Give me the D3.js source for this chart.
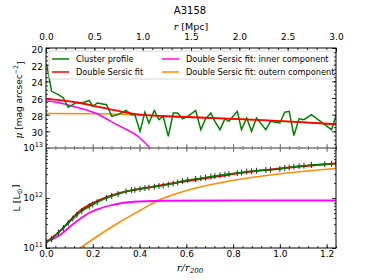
<!DOCTYPE html>
<html>
<head>
<meta charset="UTF-8">
<title>A3158</title>
<style>
  body, html { margin: 0; background: #fff; }
  svg text { font-family: "DejaVu Sans", sans-serif; fill: #000; }
  .math { font-family: "DejaVu Serif", serif; font-style: italic; }
</style>
<script src="https://d3js.org/d3.v7.min.js"></script>
</head>
<body>
<svg id="chart" width="374" height="280"></svg>
<script>
// radii of the profile points, in r/r200
const rProf = [0.003, 0.024, 0.053, 0.074, 0.095, 0.115, 0.132, 0.153, 0.185, 0.2,
  0.219, 0.259, 0.281, 0.308, 0.342, 0.366, 0.38, 0.402, 0.423, 0.44,
  0.463, 0.483, 0.501, 0.523, 0.544, 0.563, 0.584, 0.606, 0.64, 0.662,
  0.682, 0.705, 0.722, 0.744, 0.765, 0.782, 0.818, 0.836, 0.858, 0.879,
  0.9, 0.94, 0.96, 1.0, 1.021, 1.04, 1.06, 1.082, 1.103, 1.135,
  1.192, 1.221, 1.239];
// surface brightness of cluster profile [mag arcsec^-2]
const muProf = [22.0, 25.2, 25.6, 26.0, 27.1, 26.8, 26.5, 26.6, 26.3, 27.0,
  26.6, 26.8, 28.2, 28.0, 27.5, 28.0, 28.0, 30.0, 27.7, 29.0,
  27.5, 28.6, 28.2, 30.6, 27.8, 27.8, 28.5, 28.2, 27.5, 29.8,
  28.5, 27.8, 28.8, 29.8, 28.5, 28.8, 27.6, 29.8, 28.4, 30.0,
  28.4, 29.8, 28.8, 29.0, 27.7, 27.6, 30.5, 28.5, 28.6, 28.0,
  29.2, 29.8, 28.2];
// cumulative luminosity [Lsun]
const lumProf = [1.34e11, 1.51e11, 2.04e11, 2.51e11, 3.16e11, 3.89e11, 4.57e11, 5.5e11, 6.76e11, 7.41e11,
  8.3e11, 1.0e12, 1.1e12, 1.2e12, 1.35e12, 1.43e12, 1.46e12, 1.51e12, 1.58e12, 1.62e12,
  1.68e12, 1.74e12, 1.78e12, 1.86e12, 1.95e12, 2.04e12, 2.19e12, 2.29e12, 2.4e12, 2.48e12,
  2.57e12, 2.69e12, 2.75e12, 2.85e12, 2.95e12, 3.02e12, 3.16e12, 3.24e12, 3.39e12, 3.43e12,
  3.51e12, 3.63e12, 3.67e12, 3.8e12, 3.98e12, 4.07e12, 4.22e12, 4.32e12, 4.42e12, 4.57e12,
  4.73e12, 4.84e12, 4.9e12];

// fit curves, surface brightness
const rFitMu = [0, 0.06, 0.145, 0.23, 0.316, 0.4, 0.487, 0.573, 0.75, 0.92, 1.09, 1.24];
const muFit = [26.1, 26.25, 26.6, 27.1, 27.6, 28.0, 28.15, 28.25, 28.45, 28.65, 28.9, 29.15];
const rInnerMu = [0, 0.017, 0.115, 0.21, 0.303, 0.402, 0.445];
const muInner = [26.35, 26.4, 27.0, 27.8, 29.2, 30.8, 32.0];
const rOuterMu = [0, 0.23, 0.4, 0.573, 0.75, 0.92, 1.09, 1.24];
const muOuter = [27.85, 27.9, 28.05, 28.25, 28.45, 28.65, 28.9, 29.15];

// fit curves, cumulative luminosity (log10 of L/1e11)
const rFitL = [0.003, 0.06, 0.103, 0.145, 0.188, 0.23, 0.274, 0.316, 0.4, 0.487, 0.573, 0.658, 0.744, 0.829, 0.915, 1.0, 1.085, 1.171, 1.24];
const logFitL = [0.12, 0.34, 0.55, 0.74, 0.87, 0.96, 1.04, 1.1, 1.18, 1.25, 1.32, 1.38, 1.44, 1.5, 1.55, 1.59, 1.63, 1.665, 1.69];
const rInnerL = [0.003, 0.06, 0.103, 0.145, 0.188, 0.23, 0.274, 0.316, 0.4, 0.516, 0.8, 1.24];
const logInnerL = [0.126, 0.26, 0.43, 0.58, 0.71, 0.79, 0.85, 0.89, 0.93, 0.945, 0.95, 0.95];
const rOuterL = [0.145, 0.231, 0.316, 0.402, 0.479, 0.573, 0.658, 0.786, 0.927, 1.073, 1.239];
const logOuterL = [0.0, 0.27, 0.52, 0.75, 0.95, 1.11, 1.22, 1.34, 1.44, 1.52, 1.59];

const xTicksTop = [0.0, 0.5, 1.0, 1.5, 2.0, 2.5, 3.0];
const xTicksBottom = [0.0, 0.2, 0.4, 0.6, 0.8, 1.0, 1.2];
const muTicks = [20, 22, 24, 26, 28, 30];

const legendItems = [
  {label: "Cluster profile", color: "#008000"},
  {label: "Double Sersic fit", color: "#ff0000"},
  {label: "Double Sersic fit: inner component", color: "#ff00ff"},
  {label: "Double Sersic fit: outern component", color: "#ff8c00"}
];

const svg = d3.select("#chart");
const pL = 46, pR = 336, pT = 48, pM = 148, pB = 248;

const x = d3.scaleLinear().domain([0, 1.24]).range([pL, pR]);
const xMpc = d3.scaleLinear().domain([0, 3.0]).range([pL, pR]);
const yMu = d3.scaleLinear().domain([20, 32]).range([pT, pM]);
const yL = d3.scaleLog().domain([1e11, 1e13]).range([pB, pM]);

// clip for each panel
const defs = svg.append("defs");
defs.append("clipPath").attr("id", "clipTop").append("rect")
  .attr("x", pL).attr("y", pT).attr("width", pR - pL).attr("height", pM - pT);
defs.append("clipPath").attr("id", "clipBot").append("rect")
  .attr("x", pL).attr("y", pM).attr("width", pR - pL).attr("height", pB - pM);

function styleAxis(g) {
  g.select(".domain").remove();
  g.selectAll("line").attr("stroke", "#000").attr("stroke-width", 0.8);
  g.selectAll("text").attr("font-size", 9).attr("font-family", "DejaVu Sans, sans-serif");
}

const minorBottom = d3.range(0, 1.241, 0.04);
const minorMpc = d3.range(0, 3.01, 0.1);
const minorMu = d3.range(20, 32.01, 0.5);
const minorL = [];
[1e11, 1e12].forEach(d => { for (let k = 2; k < 10; k++) minorL.push(d * k); });

// ---- top panel ----
const gTop = svg.append("g");

// top axis in Mpc
gTop.append("g").attr("transform", `translate(0,${pT})`)
  .call(d3.axisTop(xMpc).tickValues(minorMpc).tickSize(-2).tickFormat(""))
  .call(styleAxis);
gTop.append("g").attr("transform", `translate(0,${pT})`)
  .call(d3.axisTop(xMpc).tickValues(xTicksTop).tickSize(-4).tickPadding(8).tickFormat(d3.format(".1f")))
  .call(styleAxis);

gTop.append("g").attr("transform", `translate(${pL},0)`)
  .call(d3.axisLeft(yMu).tickValues(minorMu).tickSize(-2).tickFormat(""))
  .call(styleAxis);
gTop.append("g").attr("transform", `translate(${pL},0)`)
  .call(d3.axisLeft(yMu).tickValues(muTicks).tickSize(-4).tickPadding(3))
  .call(styleAxis)
  .call(g => g.selectAll("text").attr("dy", "0.5em"));
gTop.append("g").attr("transform", `translate(${pR},0)`)
  .call(d3.axisRight(yMu).tickValues(minorMu).tickSize(-2).tickFormat(""))
  .call(styleAxis);
gTop.append("g").attr("transform", `translate(${pR},0)`)
  .call(d3.axisRight(yMu).tickValues(muTicks).tickSize(-4).tickFormat(""))
  .call(styleAxis);

const lineMu = (xs, ys, curve) => d3.line()
  .x((d, i) => x(xs[i])).y(d => yMu(d)).curve(curve)(ys);

const plotTop = gTop.append("g").attr("clip-path", "url(#clipTop)");
plotTop.append("path").attr("d", lineMu(rOuterMu, muOuter, d3.curveMonotoneX))
  .attr("fill", "none").attr("stroke", "#ff8c00").attr("stroke-width", 1.5);
plotTop.append("path").attr("d", lineMu(rInnerMu, muInner, d3.curveMonotoneX))
  .attr("fill", "none").attr("stroke", "#ff00ff").attr("stroke-width", 1.5);
plotTop.append("path").attr("d", lineMu(rProf, muProf, d3.curveLinear))
  .attr("fill", "none").attr("stroke", "#008000").attr("stroke-width", 1.5);
plotTop.append("path").attr("d", lineMu(rFitMu, muFit, d3.curveMonotoneX))
  .attr("fill", "none").attr("stroke", "#ff0000").attr("stroke-width", 1.8);

// ---- bottom panel ----
const gBot = svg.append("g");

gBot.append("g").attr("transform", `translate(0,${pB})`)
  .call(d3.axisBottom(x).tickValues(minorBottom).tickSize(-2).tickFormat(""))
  .call(styleAxis);
gBot.append("g").attr("transform", `translate(0,${pB})`)
  .call(d3.axisBottom(x).tickValues(xTicksBottom).tickSize(-4).tickPadding(3).tickFormat(d3.format(".1f")))
  .call(styleAxis);

gBot.append("g").attr("transform", `translate(${pL},0)`)
  .call(d3.axisLeft(yL).tickValues(minorL).tickSize(-2).tickFormat(""))
  .call(styleAxis);
const yLeft = gBot.append("g").attr("transform", `translate(${pL},0)`)
  .call(d3.axisLeft(yL).tickValues([1e11, 1e12, 1e13]).tickSize(-4).tickPadding(3).tickFormat(""))
  .call(styleAxis);
yLeft.selectAll(".tick").each(function(d) {
  const t = d3.select(this).append("text").attr("x", -3).attr("dy", "0.32em")
    .attr("text-anchor", "end").attr("font-size", 9);
  t.append("tspan").text("10");
  t.append("tspan").attr("font-size", 6.5).attr("dy", "-0.6em").text(Math.round(Math.log10(d)));
});
gBot.append("g").attr("transform", `translate(${pR},0)`)
  .call(d3.axisRight(yL).tickValues(minorL).tickSize(-2).tickFormat(""))
  .call(styleAxis);
gBot.append("g").attr("transform", `translate(${pR},0)`)
  .call(d3.axisRight(yL).tickValues([1e11, 1e12, 1e13]).tickSize(-4).tickFormat(""))
  .call(styleAxis);

const lineL = (xs, ys, curve) => d3.line()
  .x((d, i) => x(xs[i])).y(d => yL(1e11 * Math.pow(10, d))).curve(curve)(ys);

const plotBot = gBot.append("g").attr("clip-path", "url(#clipBot)");
plotBot.append("path").attr("d", lineL(rOuterL, logOuterL, d3.curveMonotoneX))
  .attr("fill", "none").attr("stroke", "#ff8c00").attr("stroke-width", 1.5);
plotBot.append("path").attr("d", lineL(rInnerL, logInnerL, d3.curveMonotoneX))
  .attr("fill", "none").attr("stroke", "#ff00ff").attr("stroke-width", 1.8);
plotBot.append("path").attr("d", lineL(rFitL, logFitL, d3.curveMonotoneX))
  .attr("fill", "none").attr("stroke", "#ff0000").attr("stroke-width", 2);
// error-bar crosses
const marks = plotBot.append("g").attr("stroke", "#000").attr("stroke-width", 0.8);
rProf.forEach((r, i) => {
  const px = x(r), py = yL(lumProf[i]);
  marks.append("line").attr("x1", px).attr("x2", px).attr("y1", py - 3).attr("y2", py + 3);
  marks.append("line").attr("x1", px - 1.5).attr("x2", px + 1.5).attr("y1", py).attr("y2", py);
});
plotBot.append("path")
  .attr("d", d3.line().x((d, i) => x(rProf[i])).y(d => yL(d))(lumProf))
  .attr("fill", "none").attr("stroke", "#008000").attr("stroke-width", 1.5);

// shared boundary between panels with ticks both ways
const gMid = svg.append("g");
gMid.append("g").attr("transform", `translate(0,${pM})`)
  .call(d3.axisBottom(x).tickValues(minorBottom).tickSize(2).tickFormat(""))
  .call(g => g.select(".domain").remove())
  .call(g => g.selectAll("line").attr("stroke", "#777").attr("y1", -2).attr("y2", 2));
gMid.append("g").attr("transform", `translate(0,${pM})`)
  .call(d3.axisBottom(x).tickValues(xTicksBottom).tickSize(4).tickFormat(""))
  .call(g => g.select(".domain").remove())
  .call(g => g.selectAll("line").attr("stroke", "#777").attr("y1", -4).attr("y2", 4));
gMid.append("line").attr("x1", pL).attr("x2", pR).attr("y1", pM).attr("y2", pM)
  .attr("stroke", "#777").attr("stroke-width", 1.6);

// frame
svg.append("rect").attr("x", pL).attr("y", pT).attr("width", pR - pL).attr("height", pB - pT)
  .attr("fill", "none").attr("stroke", "#000").attr("stroke-width", 1);

// legend
const lg = svg.append("g");
lg.append("rect").attr("x", 49).attr("y", 51).attr("width", 285).attr("height", 28)
  .attr("rx", 2.5).attr("fill", "#fff").attr("fill-opacity", 0.8)
  .attr("stroke", "#ccc").attr("stroke-width", 0.8);
const legendPos = [[52, 59], [52, 72], [162, 59], [162, 72]];
legendItems.forEach((d, i) => {
  const [lx, ly] = legendPos[i];
  lg.append("line").attr("x1", lx).attr("x2", lx + 17).attr("y1", ly).attr("y2", ly)
    .attr("stroke", d.color).attr("stroke-width", 1.5);
  lg.append("text").attr("x", lx + 24).attr("y", ly).attr("dy", "0.35em")
    .attr("font-size", 8.2).text(d.label);
});

// titles and labels
svg.append("text").attr("x", 190).attr("y", 14).attr("text-anchor", "middle")
  .attr("font-size", 10).text("A3158");
const mpcLabel = svg.append("text").attr("x", 191).attr("y", 30).attr("text-anchor", "middle")
  .attr("font-size", 9.5);
mpcLabel.append("tspan").attr("class", "math").text("r");
mpcLabel.append("tspan").text(" [Mpc]");

const muLabel = svg.append("text").attr("transform", `translate(22,${(pT + pM) / 2 + 2}) rotate(-90)`)
  .attr("text-anchor", "middle").attr("font-size", 9).attr("fill", "#333");
muLabel.append("tspan").attr("class", "math").text("μ");
muLabel.append("tspan").text(" [mag arcsec");
muLabel.append("tspan").attr("font-size", 6.3).attr("dy", "-0.6em").text("−2");
muLabel.append("tspan").attr("dy", "0.6em").text("]");

const lLabel = svg.append("text").attr("transform", `translate(20,${(pM + pB) / 2}) rotate(-90)`)
  .attr("text-anchor", "middle").attr("font-size", 9.5);
lLabel.append("tspan").text("L [L");
lLabel.append("tspan").attr("font-size", 7).attr("dy", "0.3em").text("⊙");
lLabel.append("tspan").attr("dy", "-0.3em").text("]");

const rLabel = svg.append("text").attr("x", 190).attr("y", 271).attr("text-anchor", "middle")
  .attr("font-size", 10).attr("fill", "#333");
rLabel.append("tspan").attr("class", "math").text("r/r");
rLabel.append("tspan").attr("class", "math").attr("font-size", 7).attr("dy", "0.3em").text("200");
</script>
</body>
</html>
